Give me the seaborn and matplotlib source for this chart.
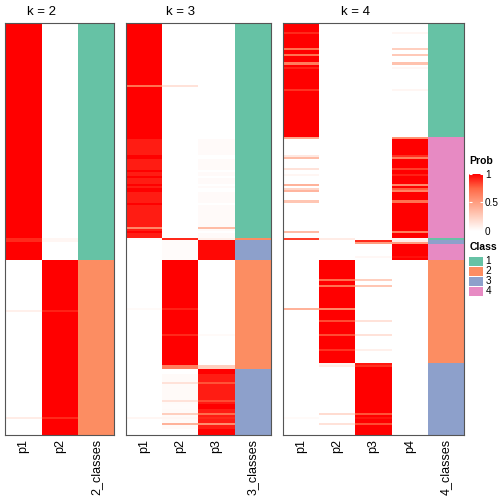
import numpy as np
import pandas as pd
import matplotlib
matplotlib.use("Agg")
import matplotlib.pyplot as plt
import seaborn as sns
from matplotlib.colors import LinearSegmentedColormap, ListedColormap, Normalize
from matplotlib.cm import ScalarMappable
from matplotlib.patches import Rectangle

plt.rcParams["font.family"] = ["Liberation Sans", "DejaVu Sans"]

W, H = 504, 504

CLASS_COLORS = ["#66C2A5", "#FC8D62", "#8DA0CB", "#E78AC3"]
CLASS_LABELS = ["1", "2", "3", "4"]
PROB_COLORS = ["#FFFFFF", "#FFCFBF", "#FF9E81", "#FF6846", "#FF0000"]
PROB_TICKS = [0, 0.5, 1]

# runs of rows: (class, number of rows, membership probabilities)
K2_RUNS = [(1, 115, (1.0, 0.0)),
           (2, 85, (0.0, 1.0))]
# single rows that differ from their run
K2_STRIPES = {104: (0.9, 0.05), 105: (0.9, 0.05),
              139: (0.08, 0.92), 191: (0.1, 0.9)}

K3_RUNS = [(1, 56, (1.0, 0.0, 0.0)),
           (1, 48, (0.93, 0.0, 0.025)),
           (2, 1, (0.02, 0.9, 0.08)),
           (3, 10, (0.0, 0.02, 0.98)),
           (2, 53, (0.0, 1.0, 0.0)),
           (3, 32, (0.0, 0.03, 0.93))]
K3_STRIPES = {30: (0.7, 0.15, 0.0), 64: (1.0, 0.0, 0.0), 65: (1.0, 0.0, 0.0),
              71: (1.0, 0.0, 0.0), 74: (1.0, 0.0, 0.0), 78: (1.0, 0.0, 0.0),
              80: (1.0, 0.0, 0.0), 81: (1.0, 0.0, 0.0), 87: (1.0, 0.0, 0.0),
              99: (0.6, 0.0, 0.35), 101: (1.0, 0.0, 0.0),
              138: (0.03, 0.92, 0.0), 151: (0.0, 0.9, 0.03),
              166: (0.0, 0.65, 0.25), 167: (0.0, 0.65, 0.25),
              168: (0.0, 0.0, 1.0), 169: (0.0, 0.0, 1.0),
              174: (0.0, 0.15, 0.8), 183: (0.0, 0.15, 0.82),
              185: (0.0, 0.02, 1.0), 186: (0.0, 0.02, 1.0),
              189: (0.0, 0.25, 0.72), 191: (0.05, 0.05, 0.9),
              194: (0.0, 0.4, 0.58), 197: (0.0, 0.0, 1.0),
              198: (0.0, 0.0, 1.0), 199: (0.0, 0.0, 1.0)}

K4_RUNS = [(1, 55, (1.0, 0.0, 0.0, 0.0)),
           (4, 49, (0.0, 0.0, 0.0, 1.0)),
           (1, 1, (0.85, 0.1, 0.0, 0.05)),
           (3, 2, (0.0, 0.0, 0.9, 0.1)),
           (4, 8, (0.0, 0.0, 0.0, 1.0)),
           (2, 50, (0.0, 1.0, 0.0, 0.0)),
           (3, 35, (0.0, 0.0, 1.0, 0.0))]
K4_STRIPES = {4: (0.9, 0.0, 0.0, 0.05), 12: (0.7, 0.0, 0.0, 0.25),
              15: (0.7, 0.0, 0.0, 0.28), 19: (0.65, 0.0, 0.0, 0.32),
              21: (0.92, 0.0, 0.0, 0.04), 32: (0.88, 0.0, 0.0, 0.05),
              55: (0.45, 0.0, 0.0, 0.55), 64: (0.12, 0.0, 0.0, 0.88),
              65: (0.35, 0.0, 0.0, 0.65), 70: (0.15, 0.0, 0.0, 0.85),
              73: (0.05, 0.0, 0.0, 0.92), 78: (0.4, 0.0, 0.0, 0.6),
              80: (0.22, 0.0, 0.0, 0.78), 81: (0.38, 0.0, 0.0, 0.62),
              86: (0.3, 0.0, 0.0, 0.7), 101: (0.35, 0.0, 0.0, 0.65),
              106: (0.0, 0.0, 0.5, 0.5), 113: (0.0, 0.0, 0.04, 0.96),
              124: (0.0, 0.72, 0.25, 0.0), 127: (0.0, 0.7, 0.3, 0.0),
              138: (0.4, 0.6, 0.0, 0.0), 144: (0.0, 0.82, 0.15, 0.0),
              151: (0.0, 0.82, 0.15, 0.0), 158: (0.0, 0.88, 0.08, 0.0),
              165: (0.0, 0.06, 0.94, 0.0), 166: (0.0, 0.1, 0.88, 0.0),
              189: (0.0, 0.18, 0.8, 0.0), 191: (0.03, 0.0, 0.95, 0.0),
              194: (0.0, 0.15, 0.82, 0.0)}

# panel left / right edges in pixels
PANEL_X = [(5.3, 114.3), (125.7, 271.0), (282.7, 464.3)]
PANEL_TOP, PANEL_BOTTOM = 23.3, 435.3

prob_cmap = LinearSegmentedColormap.from_list("prob", PROB_COLORS)
class_cmap = ListedColormap(CLASS_COLORS)


def build_frame(runs, stripes, k):
    ''' expand the runs into one row per sample '''
    classes = []
    probs = []
    for cls, n, p in runs:
        classes += [cls] * n
        probs += [list(p) for _ in range(n)]
    for row, p in stripes.items():
        probs[row] = list(p)
    df = pd.DataFrame(probs, columns=[f"p{i + 1}" for i in range(k)])
    df[f"{k}_classes"] = classes
    return df.astype(float)


def draw_panel(fig, x0, x1, df, k):
    ax = fig.add_axes([x0 / W, 1 - PANEL_BOTTOM / H, (x1 - x0) / W,
                       (PANEL_BOTTOM - PANEL_TOP) / H])
    cols = list(df.columns)
    prob_mask = np.zeros(df.shape, dtype=bool)
    prob_mask[:, k] = True
    sns.heatmap(df, mask=prob_mask, cmap=prob_cmap, vmin=0, vmax=1,
                cbar=False, ax=ax, xticklabels=cols, yticklabels=False)
    sns.heatmap(df, mask=~prob_mask, cmap=class_cmap, vmin=0.5, vmax=4.5,
                cbar=False, ax=ax, xticklabels=cols, yticklabels=False)
    ax.set_xticks(np.arange(k + 1) + 0.5)
    ax.set_xticklabels(cols, rotation=90, fontsize=9)
    ax.tick_params(axis="x", length=0, pad=2.5)
    ax.tick_params(axis="y", length=0)
    ax.set_ylabel("")
    for s in ax.spines.values():
        s.set_visible(True)
        s.set_color("#555555")
        s.set_linewidth(0.8)
    colw = (x1 - x0) / (k + 1)
    fig.text((x0 + k * colw / 2) / W, 1 - 12 / H, f"k = {k}",
             ha="center", va="center", fontsize=9.5)


def main():
    fig = plt.figure(figsize=(W / 100, H / 100), dpi=100)
    frames = [build_frame(K2_RUNS, K2_STRIPES, 2),
              build_frame(K3_RUNS, K3_STRIPES, 3),
              build_frame(K4_RUNS, K4_STRIPES, 4)]
    for (x0, x1), df, k in zip(PANEL_X, frames, [2, 3, 4]):
        draw_panel(fig, x0, x1, df, k)

    # Prob colour legend
    lx = 469.3
    fig.text(lx / W, 1 - 161 / H, "Prob", fontsize=7.5, fontweight="bold",
             ha="left", va="center")
    cax = fig.add_axes([lx / W, 1 - 231 / H, 13.4 / W, 57 / H])
    cb = fig.colorbar(ScalarMappable(norm=Normalize(0, 1), cmap=prob_cmap),
                      cax=cax, ticks=PROB_TICKS)
    cb.outline.set_visible(False)
    cb.ax.set_yticklabels(["0", "0.5", "1"])
    cax.tick_params(length=2.5, color="white", direction="in",
                    labelsize=7.2, pad=1.5, left=True, right=True)

    # Class legend
    fig.text(lx / W, 1 - 246.5 / H, "Class", fontsize=7.5, fontweight="bold",
             ha="left", va="center")
    for i, (col, lab) in enumerate(zip(CLASS_COLORS, CLASS_LABELS)):
        top = 256.7 + i * 10
        fig.add_artist(Rectangle((lx / W, 1 - (top + 9.3) / H), 13.4 / W,
                                 9.3 / H, transform=fig.transFigure,
                                 facecolor=col, edgecolor="none"))
        fig.text(485.5 / W, 1 - (top + 4.7) / H, lab, fontsize=7.2,
                 ha="left", va="center")

    fig.savefig("out.png", dpi=100, facecolor="white")


if __name__ == "__main__":
    main()
